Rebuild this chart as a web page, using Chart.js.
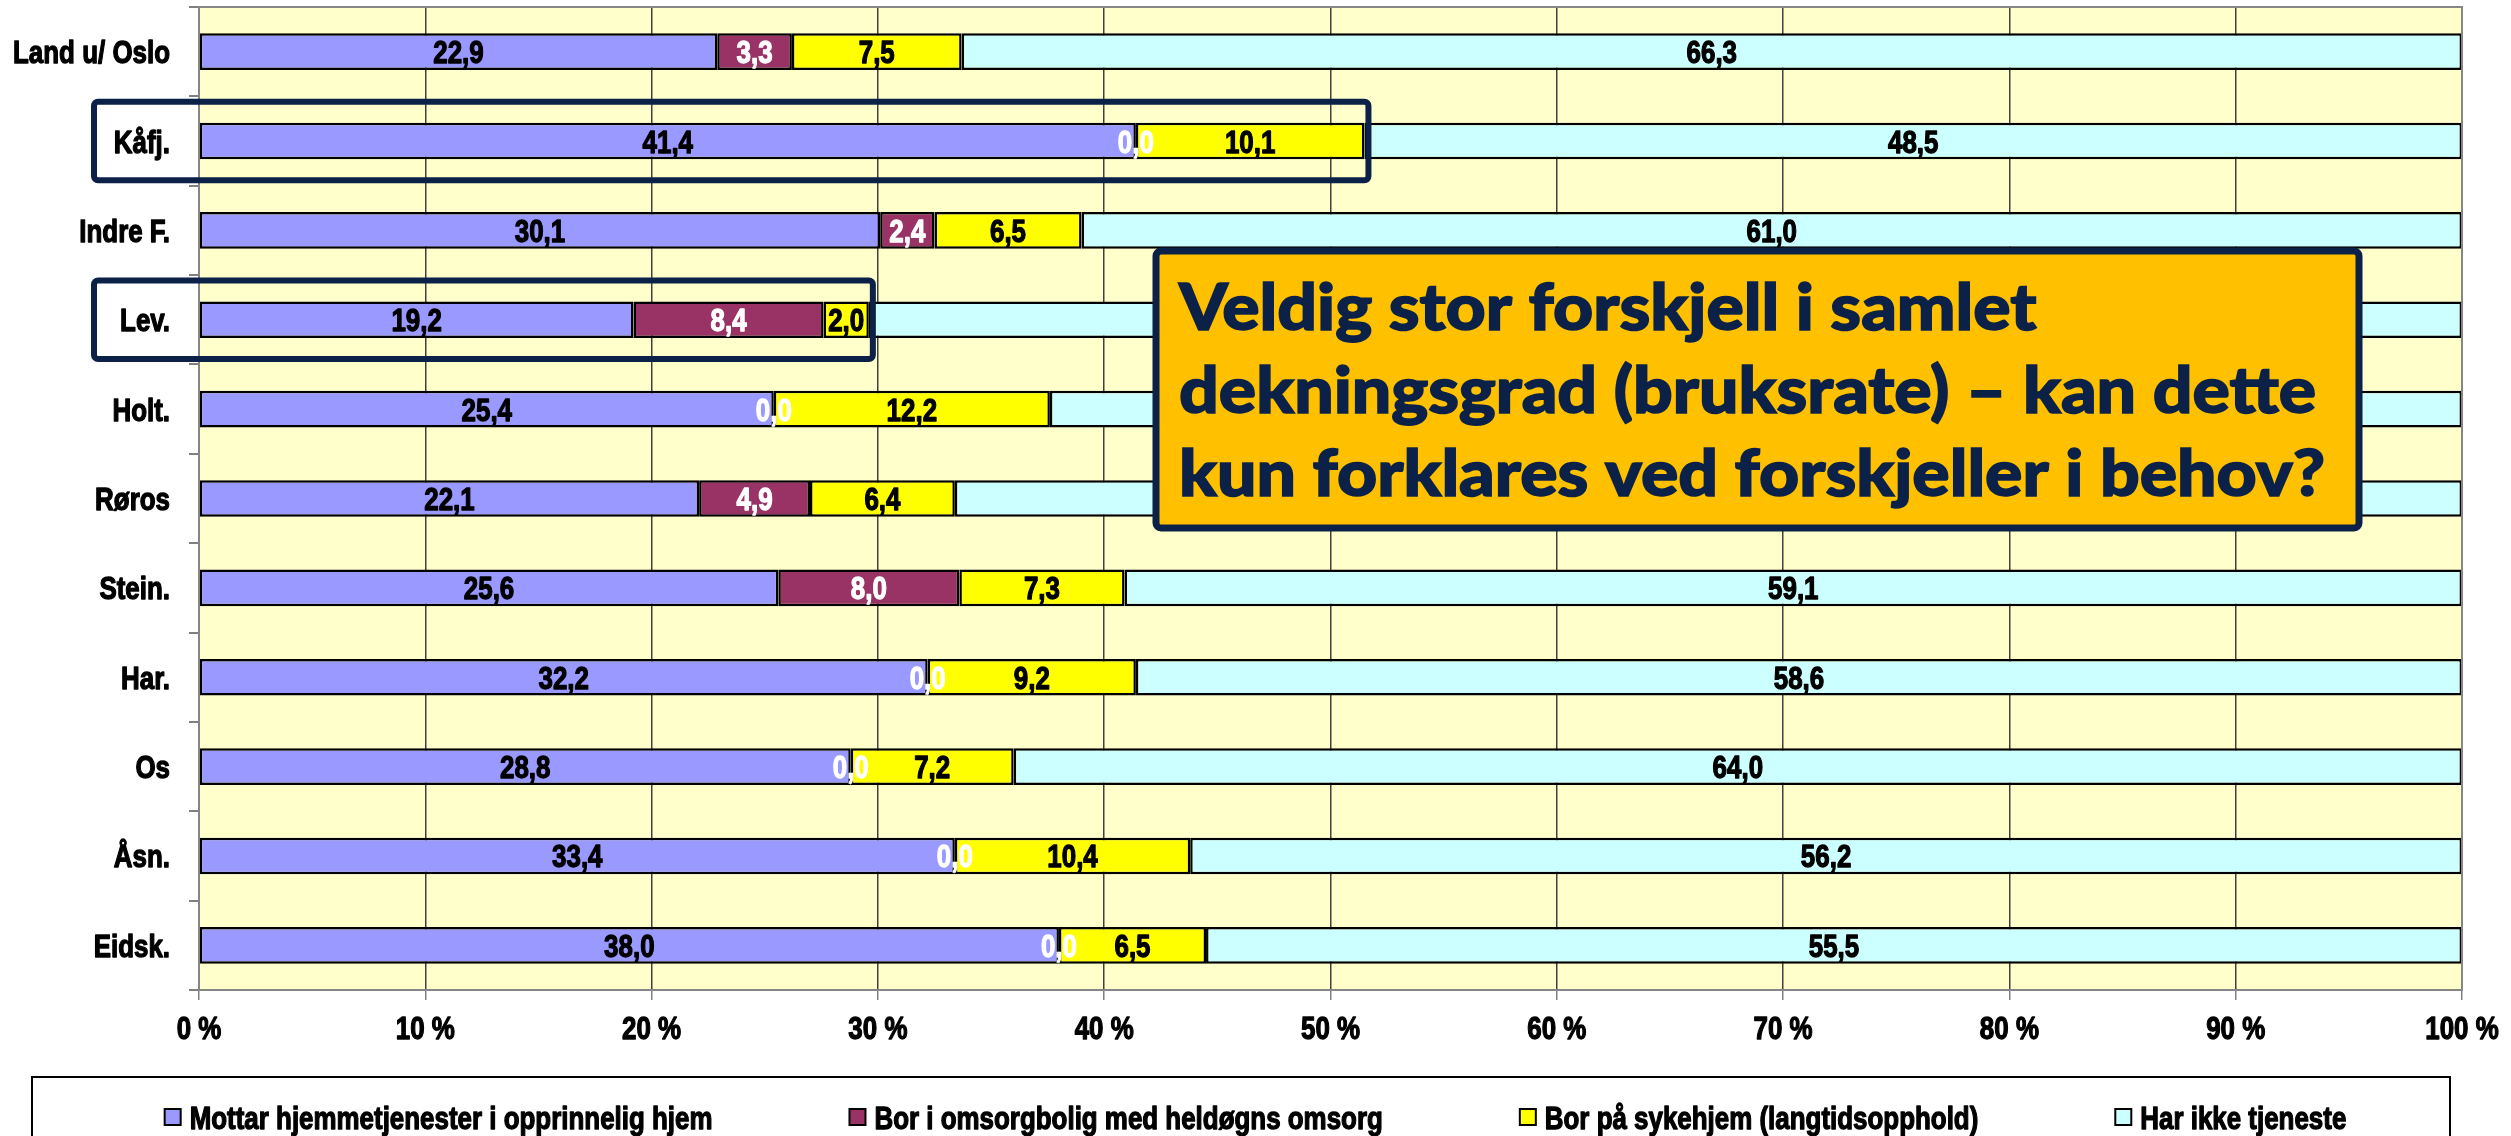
<!DOCTYPE html>
<html>
<head>
<meta charset="utf-8">
<script src="https://cdn.jsdelivr.net/npm/chart.js@4"></script>
<style>
  html, body { margin: 0; padding: 0; background: #fff; }
  #wrap { width: 2511px; height: 1136px; position: relative; }
</style>
</head>
<body>
<div id="wrap"><canvas id="chart"></canvas></div>
<script>
const SANS = '"Liberation Sans", Arial, sans-serif';
const SQUEEZE = 0.81; // narrow bold look
const TEXT_SIZE = 32;

const categories = ['Land u/ Oslo', 'Kåfj.', 'Indre F.', 'Lev.', 'Holt.', 'Røros', 'Stein.', 'Har.', 'Os', 'Åsn.', 'Eidsk.'];
const hjemmetjenester = [22.9, 41.4, 30.1, 19.2, 25.4, 22.1, 25.6, 32.2, 28.8, 33.4, 38.0];
const omsorgbolig = [3.3, 0.0, 2.4, 8.4, 0.0, 4.9, 8.0, 0.0, 0.0, 0.0, 0.0];
const sykehjem = [7.5, 10.1, 6.5, 2.0, 12.2, 6.4, 7.3, 9.2, 7.2, 10.4, 6.5];
const ingenTjeneste = [66.3, 48.5, 61.0, 70.4, 62.4, 66.6, 59.1, 58.6, 64.0, 56.2, 55.5];

const seriesNames = [
  'Mottar hjemmetjenester i opprinnelig hjem',
  'Bor i omsorgbolig med heldøgns omsorg',
  'Bor på sykehjem (langtidsopphold)',
  'Har ikke tjeneste',
];
const seriesColors = ['#9999FF', '#993366', '#FFFF00', '#CCFFFF'];
const labelColors = ['#000', '#fff', '#000', '#000'];

const highlighted = ['Kåfj.', 'Lev.'];
const calloutLines = [
  'Veldig stor forskjell i samlet',
  'dekningsgrad (bruksrate) – kan dette',
  'kun forklares ved forskjeller i behov?',
];

const NAVY = '#0B2147';
const fmt = (v) => v.toFixed(1).replace('.', ',');

// heavy bold text squeezed horizontally, vertically centred on cy
const narrowText = (ctx, text, x, cy, align, color) => {
  ctx.save();
  ctx.font = `bold ${TEXT_SIZE}px ${SANS}`;
  ctx.textAlign = 'left';
  ctx.textBaseline = 'alphabetic';
  const w = ctx.measureText(text).width * SQUEEZE;
  let left = x;
  if (align === 'right') left = x - w;
  if (align === 'center') left = x - w / 2;
  ctx.translate(left, cy + TEXT_SIZE * 0.36);
  ctx.scale(SQUEEZE, 1);
  ctx.fillStyle = color || '#000';
  ctx.strokeStyle = color || '#000';
  ctx.lineWidth = 1.3;
  ctx.lineJoin = 'round';
  ctx.fillText(text, 0, 0);
  ctx.strokeText(text, 0, 0);
  ctx.restore();
  return w;
};

const roundRect = (ctx, x, y, w, h, r) => {
  ctx.beginPath();
  ctx.moveTo(x + r, y);
  ctx.arcTo(x + w, y, x + w, y + h, r);
  ctx.arcTo(x + w, y + h, x, y + h, r);
  ctx.arcTo(x, y + h, x, y, r);
  ctx.arcTo(x, y, x + w, y, r);
  ctx.closePath();
};

// yellow plot background
const plotBackground = {
  id: 'plotBackground',
  beforeDraw(chart) {
    const { ctx, chartArea: a } = chart;
    ctx.save();
    ctx.fillStyle = '#FFFFCC';
    ctx.fillRect(a.left, a.top, a.right - a.left, a.bottom - a.top);
    ctx.restore();
  },
};

// axis labels and the values in the middle of every segment
const textLayer = {
  id: 'textLayer',
  afterDatasetsDraw(chart) {
    const { ctx, chartArea: a } = chart;
    const xs = chart.scales.x;
    const ys = chart.scales.y;
    ctx.save();
    ctx.strokeStyle = '#868686';
    ctx.lineWidth = 2;
    ctx.strokeRect(a.left, a.top, a.right - a.left, a.bottom - a.top);
    ctx.restore();

    xs.ticks.forEach((t) => {
      narrowText(ctx, `${t.value} %`, xs.getPixelForValue(t.value), a.bottom + 37, 'center');
    });
    categories.forEach((name, j) => {
      narrowText(ctx, name, a.left - 29, ys.getPixelForValue(j), 'right');
    });

    chart.data.datasets.forEach((ds, i) => {
      const meta = chart.getDatasetMeta(i);
      meta.data.forEach((bar, j) => {
        const cx = (bar.x + bar.base) / 2;
        narrowText(ctx, fmt(ds.data[j]), cx, bar.y, 'center', labelColors[i]);
      });
    });
  },
};

// frames round the highlighted rows, callout box and legend
const overlays = {
  id: 'overlays',
  afterDraw(chart) {
    const { ctx } = chart;
    const xs = chart.scales.x;
    const ys = chart.scales.y;
    const band = ys.getPixelForValue(1) - ys.getPixelForValue(0);
    ctx.save();

    ctx.strokeStyle = NAVY;
    ctx.lineWidth = 6;
    highlighted.forEach((name) => {
      const j = categories.indexOf(name);
      const end = hjemmetjenester[j] + omsorgbolig[j] + sykehjem[j];
      const cy = ys.getPixelForValue(j);
      const right = xs.getPixelForValue(end) + 4;
      roundRect(ctx, 94, cy - band * 0.44, right - 94, band * 0.88, 4);
      ctx.stroke();
    });

    // callout
    const bx = 1156, by = 251, bw = 1203, bh = 277;
    ctx.fillStyle = '#FFC000';
    roundRect(ctx, bx, by, bw, bh, 5);
    ctx.fill();
    ctx.lineWidth = 7;
    ctx.strokeStyle = NAVY;
    ctx.stroke();
    ctx.fillStyle = NAVY;
    ctx.strokeStyle = NAVY;
    ctx.lineWidth = 1.5;
    ctx.font = '900 64px Lato, "Open Sans", sans-serif';
    ctx.textAlign = 'left';
    ctx.textBaseline = 'alphabetic';
    const widest = ctx.measureText(calloutLines[1]).width;
    const sx = 1137 / widest;
    calloutLines.forEach((line, k) => {
      ctx.save();
      ctx.translate(1179, 330 + k * 83);
      ctx.scale(sx, 1);
      ctx.fillText(line, 0, 0);
      ctx.strokeText(line, 0, 0);
      ctx.restore();
    });

    // legend
    ctx.lineWidth = 2;
    ctx.strokeStyle = '#000';
    ctx.strokeRect(32, 1077, 2418, 90);
    ctx.font = `bold ${TEXT_SIZE}px ${SANS}`;
    const sq = 16, sqGap = 9, itemGap = 137;
    const items = chart.data.datasets.map((ds) => ({
      label: ds.label,
      color: ds.backgroundColor,
      w: sq + sqGap + ctx.measureText(ds.label).width * SQUEEZE,
    }));
    const total = items.reduce((s, it) => s + it.w, 0) + itemGap * (items.length - 1);
    let x = (chart.width - total) / 2;
    const ly = 1117;
    items.forEach((it) => {
      ctx.fillStyle = it.color;
      ctx.fillRect(x, ly - sq / 2, sq, sq);
      ctx.lineWidth = 2;
      ctx.strokeStyle = '#000';
      ctx.strokeRect(x, ly - sq / 2, sq, sq);
      narrowText(ctx, it.label, x + sq + sqGap, ly, 'left');
      x += it.w + itemGap;
    });
    ctx.restore();
  },
};

const seriesData = [hjemmetjenester, omsorgbolig, sykehjem, ingenTjeneste];

new Chart(document.getElementById('chart'), {
  type: 'bar',
  data: {
    labels: categories,
    datasets: seriesData.map((data, i) => ({
      label: seriesNames[i],
      data,
      backgroundColor: seriesColors[i],
      borderColor: '#000',
      borderWidth: 2.5,
      borderSkipped: false,
      categoryPercentage: 1,
      barPercentage: 0.41,
    })),
  },
  options: {
    indexAxis: 'y',
    responsive: true,
    maintainAspectRatio: false,
    animation: false,
    layout: { padding: { top: 7, right: 49, bottom: 86, left: 0 } },
    plugins: {
      legend: { display: false },
      tooltip: { enabled: false },
    },
    scales: {
      x: {
        stacked: true,
        min: 0,
        max: 100,
        ticks: { stepSize: 10, display: false },
        grid: { color: '#404040', lineWidth: 1.5, tickLength: 10, tickColor: '#808080' },
        border: { color: '#808080', width: 2 },
        afterFit: (s) => { s.height = 60; },
      },
      y: {
        stacked: true,
        ticks: { display: false },
        grid: { drawOnChartArea: false, offset: true, tickLength: 10, color: '#808080', lineWidth: 2 },
        border: { color: '#808080', width: 2 },
        afterFit: (s) => { s.width = 199; },
      },
    },
  },
  plugins: [plotBackground, textLayer, overlays],
});
</script>
</body>
</html>
